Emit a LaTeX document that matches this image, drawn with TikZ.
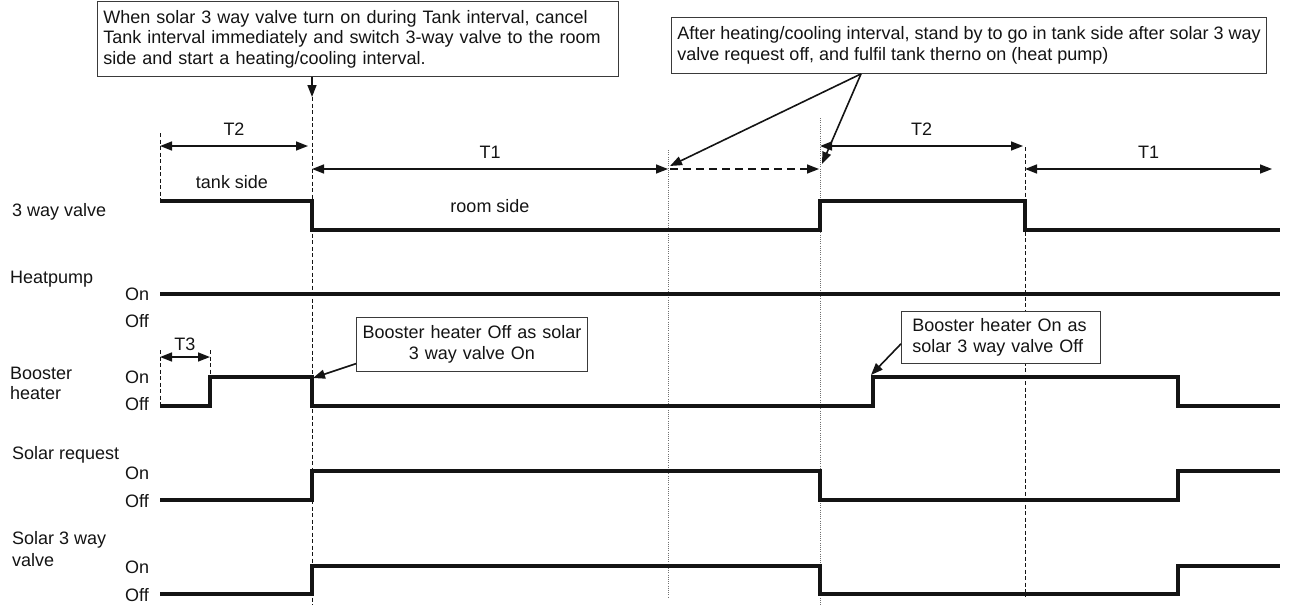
\documentclass[tikz,border=0pt]{standalone}
\usepackage{fontspec}
\setmainfont{Liberation Sans}
\usetikzlibrary{arrows.meta,positioning,calc}
\definecolor{Ink}{HTML}{141414}
\definecolor{Frame}{HTML}{3A3A3A}
\definecolor{Dots}{HTML}{707070}

\begin{document}
\begin{tikzpicture}[x=1pt,y=-1pt,
  txt/.style={font=\fontsize{18}{20.5}\selectfont,inner sep=0pt,text=Ink},
  note/.style={draw=Frame,line width=0.9pt,fill=white,font=\fontsize{18}{20.5}\selectfont,text=Ink,inner xsep=6pt,inner ysep=0pt,anchor=north west},
  sig/.style={line width=3.6pt,draw=Ink},
  dim/.style={{Triangle[length=12pt,width=9pt]}-{Triangle[length=12pt,width=9pt]},line width=1.6pt,draw=Ink},
  pointer/.style={-{Triangle[length=12pt,width=9pt]},line width=1.6pt,draw=Ink},
  guide/.style={line width=0.9pt,dash pattern=on 4pt off 2.5pt,draw=Ink},
  dotguide/.style={line width=0.9pt,dash pattern=on 1pt off 1.2pt,draw=Dots}
]
\useasboundingbox (0,0) rectangle (1292,605);

% row labels
\foreach \x/\y/\t in {12/210/3 way valve,10/277/Heatpump,10/373/Booster,10/393/heater,12/453/Solar request,12/538/Solar 3 way,12/560/valve}
  \node[txt,anchor=base west] at (\x,\y+6.5) {\t};
\foreach \y/\t in {294/On,321/Off,377/On,404/Off,473/On,501/Off,567/On,595/Off}
  \node[txt,anchor=base west] at (125,\y+6.5) {\t};

% guide lines
\draw[guide] (160,133) -- (160,201);
\draw[guide] (312,97) -- (312,605);
\draw[dotguide] (668,150) -- (668,598);
\draw[dotguide] (820,118) -- (820,605);
\draw[guide] (1025,147) -- (1025,596);
\draw[guide] (160,350) -- (160,406);
\draw[guide] (210,350) -- (210,377);

% signals
\draw[sig] (160,201) -| (312,230) -| (820,201) -| (1025,230) -- (1280,230);
\draw[sig] (160,294) -- (1280,294);
\draw[sig] (160,406) -| (210,377) -| (312,406) -| (873,377) -| (1178,406) -- (1280,406);
\draw[sig] (160,500) -| (312,471) -| (820,500) -| (1178,471) -- (1280,471);
\draw[sig] (160,594) -| (312,566) -| (820,594) -| (1178,566) -- (1280,566);

% intervals
\draw[dim] (160,146) -- node[txt,above=10pt]{T2} (308,146);
\draw[dim] (312,169) -- node[txt,above=10pt]{T1} (668,169);
\draw[pointer,dash pattern=on 8pt off 5pt] (670,169) -- (819,169);
\draw[dim] (820,146) -- node[txt,above=10pt]{T2} (1023,146);
\draw[dim] (1025,169) -- node[txt,above=10pt]{T1} (1272,169);
\draw[dim] (160,357) -- node[txt,above=6pt]{T3} (210,357);
\node[txt] (tankside) at (232,182) {tank side};
\node[txt] (roomside) at (490,206) {room side};

% notes
\node[note,text width=509pt,align=left,minimum height=75pt] (cancelnote) at (97,1)
  {When solar 3 way valve turn on during Tank interval, cancel\\Tank interval immediately and switch 3-way valve to the room\\side and start a heating/cooling interval.};
\coordinate (cancelhit) at (312,97);
\draw[pointer] (cancelnote.south -| cancelhit) -- (cancelhit);

\node[note,align=left,minimum height=56pt] (standbynote) at (671,17)
  {After heating/cooling interval, stand by to go in tank side after solar 3 way\\valve request off, and fulfil tank therno on (heat pump)};
\coordinate (standbyfoot) at (861,0);
\coordinate (dwellstart) at (670,166);
\coordinate (dwellend) at (822,164);
\foreach \e in {dwellstart,dwellend}{\draw[pointer] (standbynote.south -| standbyfoot) -- (\e);}

\node[note,text width=219pt,align=center,minimum height=54pt] (offnote) at (356,317)
  {Booster heater Off as solar\\3 way valve On};
\coordinate (offhit) at (313,378);
\draw[pointer] ($(offnote.south west)!0.15!(offnote.north west)$) -- (offhit);

\node[note,text width=177pt,inner xsep=11pt,align=left,minimum height=52pt] (onnote) at (901,311)
  {Booster heater On as\\solar 3 way valve Off};
\coordinate (onhit) at (871,375);
\draw[pointer] ($(onnote.south west)!0.38!(onnote.north west)$) -- (onhit);
\end{tikzpicture}
\end{document}
